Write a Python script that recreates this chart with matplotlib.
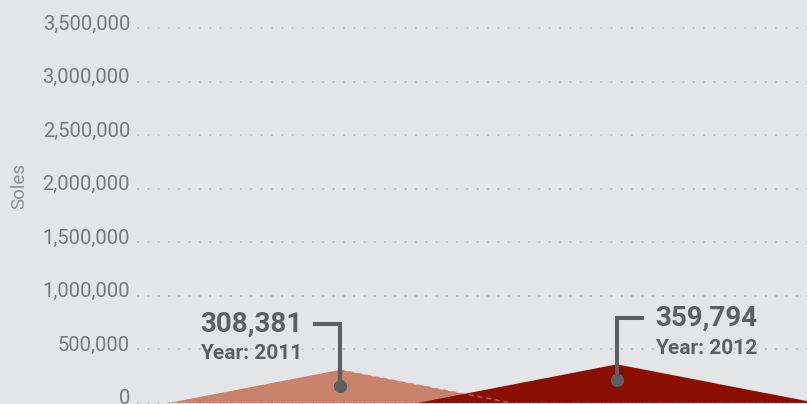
import matplotlib
matplotlib.use("Agg")
import matplotlib.pyplot as plt
from matplotlib.transforms import Affine2D

# Yearly totals (soles)
years = ["2011", "2012"]
values = [308381, 359794]
value_labels = ["308,381", "359,794"]
colors = ["#c9836d", "#8b0e03"]

yticks = [0, 500000, 1000000, 1500000, 2000000, 2500000, 3000000, 3500000]
ytick_labels = ["0", "500,000", "1,000,000", "1,500,000", "2,000,000",
                "2,500,000", "3,000,000", "3,500,000"]

BG = "#e4e5e7"
CALLOUT = "#5e5f61"
TICK = "#77787a"

W, H, DPI = 807, 404, 100
fig = plt.figure(figsize=(W / DPI, H / DPI), dpi=DPI, facecolor=BG)
ax = fig.add_axes([137 / W, 0, 1 - 137 / W, 1], facecolor=BG)

# axis ranges: one category per unit, 277 px apart
ax.set_xlim(-0.733, 1.686)
ax.set_ylim(-10300, 3.761e6)

for s in ax.spines.values():
    s.set_visible(False)
ax.set_xticks([])
ax.set_yticks(yticks)
ax.set_yticklabels(ytick_labels, fontfamily="Roboto", fontweight="normal",
                   fontsize=14.5, color=TICK)
ax.tick_params(axis="y", length=0, pad=5)
# labels sit slightly above their grid lines
for lbl in ax.get_yticklabels():
    lbl.set_transform(lbl.get_transform() + Affine2D().translate(0, 6))
ax.yaxis.grid(True, color="#c4c5c7", linestyle=(0, (1.2, 4.5)), linewidth=1.3)
ax.set_axisbelow(True)
ax.set_ylabel("Soles", fontfamily="Roboto", fontweight="normal", fontsize=13.5,
              color="#8e8f91")
ax.yaxis.set_label_coords(-(137 - 28) / (W - 137), (404 - 186) / 404)

# pixel -> data conversion (fixed figure geometry)
x0, x1 = ax.get_xlim()
y0, y1 = ax.get_ylim()
px_x = (x1 - x0) / (W - 137)
px_y = (y1 - y0) / H

# triangular peaks: base half-width proportional to value
half_widths = [v / 500000 for v in values]
for i, (v, hw, c) in enumerate(zip(values, half_widths, colors)):
    ax.fill([i - hw, i, i + hw], [0, v, 0], color=c, linewidth=0, zorder=2 + i)

# faint dashed continuation of the first peak's edge over the second
ax.plot([0, half_widths[0]], [values[0], 0], color=colors[0], lw=0.9,
        dashes=(4, 3), alpha=0.8, zorder=4)

# callouts
sides = [-1, 1]
for i, (v, lab, yr, side) in enumerate(zip(values, value_labels, years, sides)):
    dot_y = v - 16 * px_y
    top_y = v + 46 * px_y
    end_x = i + side * 27 * px_x
    ax.plot([end_x, i, i], [top_y, top_y, dot_y], color=CALLOUT, lw=2.9,
            solid_capstyle="butt", solid_joinstyle="miter", zorder=6)
    ax.plot([i], [dot_y], "o", color=CALLOUT, markersize=8.5, zorder=7)
    tx = end_x + side * 11 * px_x
    ha = "right" if side < 0 else "left"
    ax.text(tx, top_y, lab, ha=ha, va="center", fontfamily="Roboto",
            fontweight="bold", fontsize=20, color=CALLOUT, zorder=8)
    ax.text(tx, top_y - 30 * px_y, "Year: " + yr, ha=ha, va="center",
            fontfamily="Roboto", fontweight="bold", fontsize=15, color=CALLOUT,
            zorder=8)

fig.savefig("out.png", dpi=DPI, facecolor=BG)
